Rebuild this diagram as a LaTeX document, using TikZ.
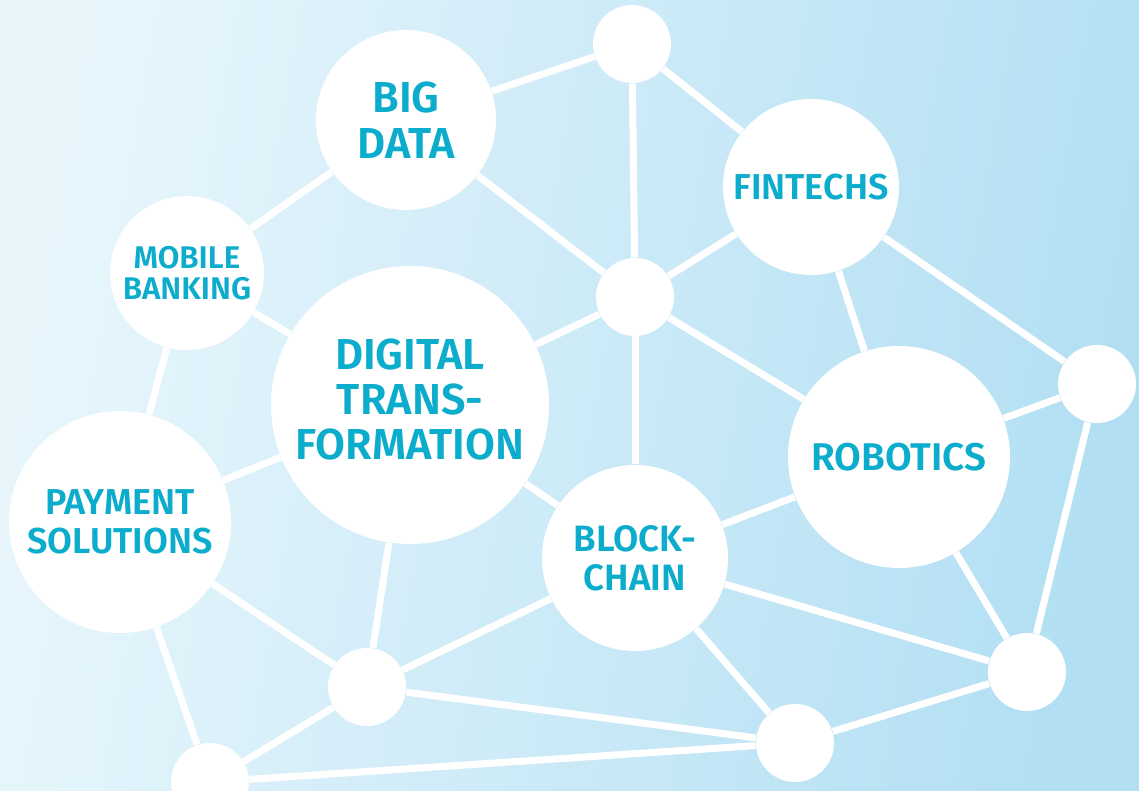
\documentclass[tikz,border=0pt]{standalone}
\usepackage{fontspec}
\setmainfont{Fira Sans}[BoldFont={Fira Sans SemiBold}]

\definecolor{labelblue}{RGB}{12,172,204}
\definecolor{skylight}{RGB}{232,246,252}
\definecolor{skydeep}{RGB}{178,223,243}

\tikzset{every picture/.style={line width=0.75pt}}
\tikzset{
  bubble/.style={circle, fill=white, inner sep=0pt, text=labelblue, align=center},
  dot/.style={bubble, minimum size=58.5pt},
  link/.style={draw=white, line width=5.25pt},
}

\begin{document}
\begin{tikzpicture}[x=0.75pt,y=0.75pt,yscale=-1,xscale=1]
\useasboundingbox (0,0) rectangle (1139,791);

%Shape: Background
\shade [left color=skylight, right color=skydeep, shading angle=80] (0,0) rectangle (1139,791);

%Shape: Circle (labelled)
\node [bubble, minimum size=135pt, font=\fontsize{32.5}{34.5}\selectfont\bfseries] (bigdata) at (406,120) {BIG\\DATA};
\node [bubble, minimum size=132pt, font=\fontsize{27}{29}\selectfont\bfseries] (fintechs) at (811,187) {FINTECHS};
\node [bubble, minimum size=115.5pt, font=\fontsize{23.5}{23}\selectfont\bfseries] (mobile) at (187,273) {MOBILE\\BANKING};
\node [bubble, minimum size=208.5pt, text depth=9pt, font=\fontsize{32.5}{33.75}\selectfont\bfseries] (digital) at (410,405) {DIGITAL\\TRANS-\\FORMATION};
\node [bubble, minimum size=166.5pt, font=\fontsize{27}{29}\selectfont\bfseries] (payment) at (120,522) {PAYMENT\\SOLUTIONS};
\node [bubble, minimum size=139.5pt, font=\fontsize{27.5}{29}\selectfont\bfseries] (blockchain) at (635,558) {BLOCK-\\CHAIN};
\node [bubble, minimum size=166.5pt, font=\fontsize{29}{31}\selectfont\bfseries] (robotics) at (899,457) {ROBOTICS};

%Shape: Circle (small)
\node [dot] (top) at (632,44) {};
\node [dot] (hub) at (635,297) {};
\node [dot] (right) at (1097,384) {};
\node [dot] (botright) at (1027,672) {};
\node [dot] (botmid) at (367,687) {};
\node [dot] (botctr) at (795,743) {};
\node [dot] (botleft) at (210,782) {};

%Straight Lines
\draw [link] (bigdata) -- (top);
\draw [link] (bigdata) -- (mobile);
\draw [link] (bigdata) -- (hub);
\draw [link] (top) -- (hub);
\draw [link] (top) -- (fintechs);
\draw [link] (fintechs) -- (hub);
\draw [link] (fintechs) -- (robotics);
\draw [link] (fintechs) -- (right);
\draw [link] (hub) -- (digital);
\draw [link] (hub) -- (robotics);
\draw [link] (hub) -- (blockchain);
\draw [link] (mobile) -- (digital);
\draw [link] (mobile) -- (payment);
\draw [link] (digital) -- (payment);
\draw [link] (digital) -- (blockchain);
\draw [link] (digital) -- (botmid);
\draw [link] (payment) -- (botmid);
\draw [link] (payment) -- (botleft);
\draw [link] (botmid) -- (botleft);
\draw [link] (botmid) -- (blockchain);
\draw [link] (botmid) -- (botctr);
\draw [link] (botleft) -- (botctr);
\draw [link] (blockchain) -- (botctr);
\draw [link] (blockchain) -- (robotics);
\draw [link] (blockchain) -- (botright);
\draw [link] (robotics) -- (right);
\draw [link] (robotics) -- (botright);
\draw [link] (right) -- (botright);
\draw [link] (botctr) -- (botright);

\end{tikzpicture}
\end{document}
